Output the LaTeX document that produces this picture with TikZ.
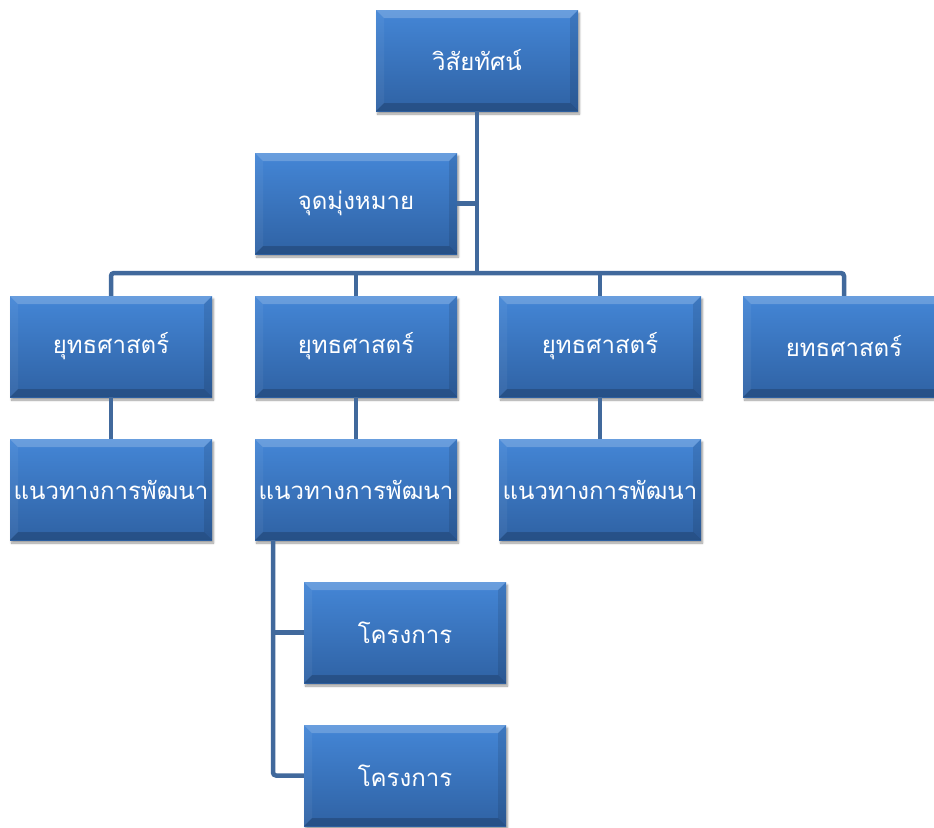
\documentclass[tikz,border=0pt]{standalone}
\usepackage{fontspec}
\setmainfont[Script=Thai]{Loma}
\usetikzlibrary{shadows.blur}
\definecolor{linec}{RGB}{65,105,156}
\definecolor{boxtop}{RGB}{68,134,214}
\definecolor{boxbot}{RGB}{47,98,164}
\tikzset{
  bx/.style={minimum width=202pt, minimum height=101pt, inner sep=0pt,
    top color=boxtop, bottom color=boxbot, text=white, font=\fontsize{24}{28}\selectfont,
    blur shadow={shadow xshift=1.5pt, shadow yshift=-3pt, shadow blur steps=6, shadow opacity=40},
    path picture={
      \fill[white,opacity=0.2] (path picture bounding box.north west) -- (path picture bounding box.north east)
        -- ([shift={(-8pt,-8pt)}]path picture bounding box.north east) -- ([shift={(8pt,-8pt)}]path picture bounding box.north west) -- cycle;
      \fill[white,opacity=0.05] (path picture bounding box.north west) -- ([shift={(8pt,-8pt)}]path picture bounding box.north west)
        -- ([shift={(8pt,8pt)}]path picture bounding box.south west) -- (path picture bounding box.south west) -- cycle;
      \fill[black,opacity=0.1] (path picture bounding box.north east) -- ([shift={(-8pt,-8pt)}]path picture bounding box.north east)
        -- ([shift={(-8pt,8pt)}]path picture bounding box.south east) -- (path picture bounding box.south east) -- cycle;
      \fill[black,opacity=0.18] (path picture bounding box.south west) -- ([shift={(8pt,8pt)}]path picture bounding box.south west)
        -- ([shift={(-8pt,8pt)}]path picture bounding box.south east) -- (path picture bounding box.south east) -- cycle;
    }},
  conn/.style={draw=linec, line width=4.5pt, rounded corners=3pt}
}
\begin{document}
\begin{tikzpicture}[x=1pt,y=-1pt]
\useasboundingbox (0,0) rectangle (934,827);
\clip (0,0) rectangle (934,827);
\coordinate (bus) at (477,273);
\coordinate (pt) at (273,540);
\node[bx] (vis) at (477,60.5) {วิสัยทัศน์};
\node[bx] (goal) at (356,203.5) {จุดมุ่งหมาย};
\node[bx] (s1) at (111,346.5) {ยุทธศาสตร์};
\node[bx] (s2) at (356,346.5) {ยุทธศาสตร์};
\node[bx] (s3) at (600,346.5) {ยุทธศาสตร์};
\node[bx] (s4) at (844,346.5) {ยทธศาสตร์};
\node[bx] (g1) at (111,489.5) {แนวทางการพัฒนา};
\node[bx] (g2) at (356,489.5) {แนวทางการพัฒนา};
\node[bx] (g3) at (600,489.5) {แนวทางการพัฒนา};
\node[bx] (p1) at (405,632.5) {โครงการ};
\node[bx] (p2) at (405,775.5) {โครงการ};
\draw[conn] (vis.south) -- (bus);
\draw[conn] (goal.east) -- (goal.east -| bus);
\draw[conn] (s1.north) |- (bus) -| (s4.north);
\draw[conn] (s2.north) -- (s2.north |- bus);
\draw[conn] (s3.north) -- (s3.north |- bus);
\draw[conn] (s1.south) -- (g1.north);
\draw[conn] (s2.south) -- (g2.north);
\draw[conn] (s3.south) -- (g3.north);
\draw[conn] (pt) |- (p2.west);
\draw[conn] (p1.west) -- (p1.west -| pt);
\end{tikzpicture}
\end{document}
